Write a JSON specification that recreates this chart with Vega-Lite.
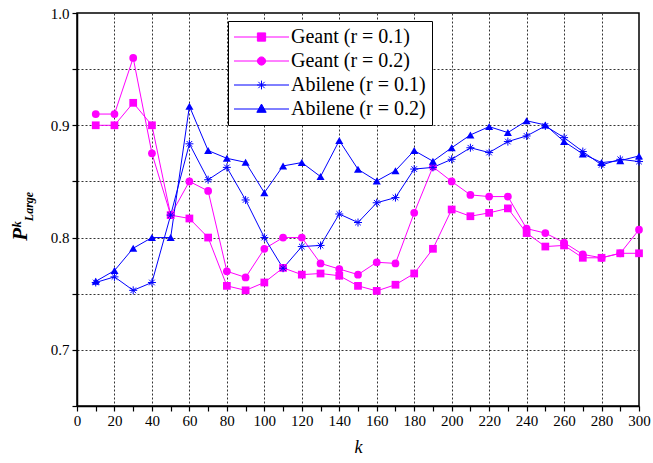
{
  "$schema": "https://vega.github.io/schema/vega-lite/v6.json",
  "autosize": {"type": "none"},
  "padding": {"left": 77, "top": 13, "right": 14, "bottom": 57},
  "width": 562,
  "height": 393,
  "background": "white",
  "config": {
    "font": "Times New Roman, Liberation Serif, serif",
    "view": {"stroke": "black", "strokeWidth": 1.5},
    "axis": {
      "domainColor": "black", "domainWidth": 1.5, "tickColor": "black", "tickWidth": 1.2,
      "labelFont": "Times New Roman, Liberation Serif, serif", "labelFontSize": 15, "labelColor": "black",
      "titleFont": "Times New Roman, Liberation Serif, serif", "titleColor": "black",
      "gridColor": "#333333", "gridDash": [2, 2], "gridWidth": 1
    },
    "legend": {
      "orient": "none", "legendX": 151, "legendY": 8,
      "strokeColor": "black", "fillColor": "white", "padding": 6,
      "labelFont": "Times New Roman, Liberation Serif, serif", "labelFontSize": 20, "labelColor": "black",
      "symbolSize": 100, "rowPadding": 4, "labelOffset": 4, "symbolStrokeWidth": 1,
      "clipHeight": 20
    }
  },
  "data": {"values": [
    {"k":10,"series":"Geant (r = 0.1)","v":0.90},{"k":20,"series":"Geant (r = 0.1)","v":0.90},{"k":30,"series":"Geant (r = 0.1)","v":0.92},{"k":40,"series":"Geant (r = 0.1)","v":0.90},{"k":50,"series":"Geant (r = 0.1)","v":0.82},{"k":60,"series":"Geant (r = 0.1)","v":0.817},{"k":70,"series":"Geant (r = 0.1)","v":0.80},{"k":80,"series":"Geant (r = 0.1)","v":0.757},{"k":90,"series":"Geant (r = 0.1)","v":0.753},{"k":100,"series":"Geant (r = 0.1)","v":0.76},
    {"k":110,"series":"Geant (r = 0.1)","v":0.773},{"k":120,"series":"Geant (r = 0.1)","v":0.767},{"k":130,"series":"Geant (r = 0.1)","v":0.768},{"k":140,"series":"Geant (r = 0.1)","v":0.766},{"k":150,"series":"Geant (r = 0.1)","v":0.757},{"k":160,"series":"Geant (r = 0.1)","v":0.7525},{"k":170,"series":"Geant (r = 0.1)","v":0.758},{"k":180,"series":"Geant (r = 0.1)","v":0.768},{"k":190,"series":"Geant (r = 0.1)","v":0.79},{"k":200,"series":"Geant (r = 0.1)","v":0.825},
    {"k":210,"series":"Geant (r = 0.1)","v":0.819},{"k":220,"series":"Geant (r = 0.1)","v":0.822},{"k":230,"series":"Geant (r = 0.1)","v":0.826},{"k":240,"series":"Geant (r = 0.1)","v":0.804},{"k":250,"series":"Geant (r = 0.1)","v":0.792},{"k":260,"series":"Geant (r = 0.1)","v":0.793},{"k":270,"series":"Geant (r = 0.1)","v":0.782},{"k":280,"series":"Geant (r = 0.1)","v":0.782},{"k":290,"series":"Geant (r = 0.1)","v":0.786},{"k":300,"series":"Geant (r = 0.1)","v":0.786},
    {"k":10,"series":"Geant (r = 0.2)","v":0.91},{"k":20,"series":"Geant (r = 0.2)","v":0.91},{"k":30,"series":"Geant (r = 0.2)","v":0.96},{"k":40,"series":"Geant (r = 0.2)","v":0.875},{"k":50,"series":"Geant (r = 0.2)","v":0.82},{"k":60,"series":"Geant (r = 0.2)","v":0.85},{"k":70,"series":"Geant (r = 0.2)","v":0.8415},{"k":80,"series":"Geant (r = 0.2)","v":0.77},{"k":90,"series":"Geant (r = 0.2)","v":0.7645},{"k":100,"series":"Geant (r = 0.2)","v":0.79},
    {"k":110,"series":"Geant (r = 0.2)","v":0.80},{"k":120,"series":"Geant (r = 0.2)","v":0.80},{"k":130,"series":"Geant (r = 0.2)","v":0.777},{"k":140,"series":"Geant (r = 0.2)","v":0.772},{"k":150,"series":"Geant (r = 0.2)","v":0.767},{"k":160,"series":"Geant (r = 0.2)","v":0.778},{"k":170,"series":"Geant (r = 0.2)","v":0.777},{"k":180,"series":"Geant (r = 0.2)","v":0.822},{"k":190,"series":"Geant (r = 0.2)","v":0.863},{"k":200,"series":"Geant (r = 0.2)","v":0.85},
    {"k":210,"series":"Geant (r = 0.2)","v":0.838},{"k":220,"series":"Geant (r = 0.2)","v":0.8365},{"k":230,"series":"Geant (r = 0.2)","v":0.8365},{"k":240,"series":"Geant (r = 0.2)","v":0.808},{"k":250,"series":"Geant (r = 0.2)","v":0.804},{"k":260,"series":"Geant (r = 0.2)","v":0.7955},{"k":270,"series":"Geant (r = 0.2)","v":0.785},{"k":280,"series":"Geant (r = 0.2)","v":0.782},{"k":290,"series":"Geant (r = 0.2)","v":0.786},{"k":300,"series":"Geant (r = 0.2)","v":0.807},
    {"k":10,"series":"Abilene (r = 0.1)","v":0.76},{"k":20,"series":"Abilene (r = 0.1)","v":0.765},{"k":30,"series":"Abilene (r = 0.1)","v":0.753},{"k":40,"series":"Abilene (r = 0.1)","v":0.76},{"k":50,"series":"Abilene (r = 0.1)","v":0.82},{"k":60,"series":"Abilene (r = 0.1)","v":0.8835},{"k":70,"series":"Abilene (r = 0.1)","v":0.8515},{"k":80,"series":"Abilene (r = 0.1)","v":0.8625},{"k":90,"series":"Abilene (r = 0.1)","v":0.8335},{"k":100,"series":"Abilene (r = 0.1)","v":0.80},
    {"k":110,"series":"Abilene (r = 0.1)","v":0.7727},{"k":120,"series":"Abilene (r = 0.1)","v":0.792},{"k":130,"series":"Abilene (r = 0.1)","v":0.793},{"k":140,"series":"Abilene (r = 0.1)","v":0.821},{"k":150,"series":"Abilene (r = 0.1)","v":0.8134},{"k":160,"series":"Abilene (r = 0.1)","v":0.831},{"k":170,"series":"Abilene (r = 0.1)","v":0.8356},{"k":180,"series":"Abilene (r = 0.1)","v":0.861},{"k":190,"series":"Abilene (r = 0.1)","v":0.8625},{"k":200,"series":"Abilene (r = 0.1)","v":0.8697},
    {"k":210,"series":"Abilene (r = 0.1)","v":0.880},{"k":220,"series":"Abilene (r = 0.1)","v":0.8757},{"k":230,"series":"Abilene (r = 0.1)","v":0.8855},{"k":240,"series":"Abilene (r = 0.1)","v":0.8905},{"k":250,"series":"Abilene (r = 0.1)","v":0.8994},{"k":260,"series":"Abilene (r = 0.1)","v":0.889},{"k":270,"series":"Abilene (r = 0.1)","v":0.8766},{"k":280,"series":"Abilene (r = 0.1)","v":0.8647},{"k":290,"series":"Abilene (r = 0.1)","v":0.8697},{"k":300,"series":"Abilene (r = 0.1)","v":0.8677},
    {"k":10,"series":"Abilene (r = 0.2)","v":0.761},{"k":20,"series":"Abilene (r = 0.2)","v":0.7706},{"k":30,"series":"Abilene (r = 0.2)","v":0.7905},{"k":40,"series":"Abilene (r = 0.2)","v":0.80},{"k":50,"series":"Abilene (r = 0.2)","v":0.80},{"k":60,"series":"Abilene (r = 0.2)","v":0.917},{"k":70,"series":"Abilene (r = 0.2)","v":0.8775},{"k":80,"series":"Abilene (r = 0.2)","v":0.8706},{"k":90,"series":"Abilene (r = 0.2)","v":0.867},{"k":100,"series":"Abilene (r = 0.2)","v":0.840},
    {"k":110,"series":"Abilene (r = 0.2)","v":0.8638},{"k":120,"series":"Abilene (r = 0.2)","v":0.8668},{"k":130,"series":"Abilene (r = 0.2)","v":0.8543},{"k":140,"series":"Abilene (r = 0.2)","v":0.8864},{"k":150,"series":"Abilene (r = 0.2)","v":0.8608},{"k":160,"series":"Abilene (r = 0.2)","v":0.8504},{"k":170,"series":"Abilene (r = 0.2)","v":0.8596},{"k":180,"series":"Abilene (r = 0.2)","v":0.8775},{"k":190,"series":"Abilene (r = 0.2)","v":0.868},{"k":200,"series":"Abilene (r = 0.2)","v":0.880},
    {"k":210,"series":"Abilene (r = 0.2)","v":0.8914},{"k":220,"series":"Abilene (r = 0.2)","v":0.8988},{"k":230,"series":"Abilene (r = 0.2)","v":0.8935},{"k":240,"series":"Abilene (r = 0.2)","v":0.904},{"k":250,"series":"Abilene (r = 0.2)","v":0.9003},{"k":260,"series":"Abilene (r = 0.2)","v":0.8855},{"k":270,"series":"Abilene (r = 0.2)","v":0.8745},{"k":280,"series":"Abilene (r = 0.2)","v":0.8668},{"k":290,"series":"Abilene (r = 0.2)","v":0.8685},{"k":300,"series":"Abilene (r = 0.2)","v":0.8727}
  ]},
  "resolve": {"axis": {"y": "independent"}},
  "encoding": {
    "x": {
      "field": "k", "type": "quantitative",
      "scale": {"domain": [0, 300], "nice": false, "zero": false},
      "axis": {
        "values": [0,10,20,30,40,50,60,70,80,90,100,110,120,130,140,150,160,170,180,190,200,210,220,230,240,250,260,270,280,290,300],
        "grid": true,
        "gridOpacity": {"condition": {"test": "datum.value % 20 === 0 && datum.value > 0 && datum.value < 300", "value": 1}, "value": 0},
        "labelExpr": "datum.value % 20 === 0 ? datum.label : ''",
        "labelOverlap": false,
        "tickSize": 5,
        "labelPadding": 2, "labelFlush": false,
        "title": "k", "titleFontStyle": "italic", "titleFontWeight": "normal", "titleFontSize": 18, "titlePadding": 10
      }
    },
    "color": {
      "field": "series", "type": "nominal",
      "scale": {"domain": ["Geant (r = 0.1)", "Geant (r = 0.2)", "Abilene (r = 0.1)", "Abilene (r = 0.2)"], "range": ["#FF00FF", "#FF00FF", "#0000FF", "#0000FF"]},
      "legend": {
        "title": null,
        "symbolType": "M-1,0H1",
        "clipHeight": 20,
        "encode": {
          "symbols": {"update": {
            "shape": {"signal": "datum.value==='Geant (r = 0.1)' ? 'M-1,0H1M-0.15,-0.15H0.15V0.15H-0.15Z' : datum.value==='Geant (r = 0.2)' ? 'M-1,0H1M0.15,0A0.15,0.15,0,1,1,-0.15,0A0.15,0.15,0,1,1,0.15,0Z' : datum.value==='Abilene (r = 0.1)' ? 'M-1,0H1M-0.16,0H0.16M0,-0.16V0.16M-0.115,-0.115L0.115,0.115M-0.115,0.115L0.115,-0.115' : 'M-1,0H1M0,-0.18L0.17,0.12H-0.17Z'"},
            "fill": {"signal": "indexof(datum.value,'Geant')===0 ? '#FF00FF' : '#2222FF'"},
            "stroke": {"signal": "indexof(datum.value,'Geant')===0 ? '#FF00FF' : '#2222FF'"},
            "strokeWidth": {"value": 1},
            "opacity": {"value": 1},
            "size": {"value": 3025},
            "x": {"value": 27.5}
          }},
          "labels": {"update": {"x": {"value": 57}}}
        }
      }
    }
  },
  "layer": [
    {
      "mark": {"type": "line", "strokeWidth": 1},
      "encoding": {
        "y": {
          "field": "v", "type": "quantitative",
          "scale": {"domain": [0.65, 1.0], "nice": false, "zero": false},
          "axis": {
            "orient": "left",
            "values": [0.65, 0.7, 0.75, 0.8, 0.85, 0.9, 0.95, 1.0],
            "grid": true,
            "gridOpacity": {"condition": {"test": "datum.value > 0.66 && datum.value < 0.99", "value": 1}, "value": 0},
            "labelExpr": "abs(datum.value*10-round(datum.value*10))<0.01 ? format(datum.value,'.1f') : ''",
            "tickSize": 5, "labelPadding": 3, "labelFlush": false,
            "title": "Pᵏ", "titleFontStyle": "italic", "titleFontWeight": "bold", "titleFontSize": 21,
            "titleX": -57, "titleY": 218, "titleAngle": -90, "titleAlign": "center", "titleBaseline": "middle"
          }
        }
      }
    },
    {
      "transform": [{"filter": "datum.series === 'Geant (r = 0.1)'"}],
      "mark": {"type": "point", "filled": true, "opacity": 1, "size": 60, "shape": "square"},
      "encoding": {
        "y": {
          "field": "v", "type": "quantitative",
          "axis": {
            "orient": "left", "labels": false, "ticks": false, "domain": false, "grid": false,
            "title": "Large", "titleFontStyle": "italic", "titleFontWeight": "bold", "titleFontSize": 12,
            "titleX": -49, "titleY": 193, "titleAngle": -90, "titleAlign": "center", "titleBaseline": "middle"
          }
        }
      }
    },
    {
      "transform": [{"filter": "datum.series === 'Geant (r = 0.2)'"}],
      "mark": {"type": "point", "filled": true, "opacity": 1, "size": 60, "shape": "circle"},
      "encoding": {"y": {"field": "v", "type": "quantitative", "axis": null}}
    },
    {
      "transform": [{"filter": "datum.series === 'Abilene (r = 0.2)'"}],
      "mark": {"type": "point", "filled": true, "opacity": 1, "size": 65, "shape": "triangle-up"},
      "encoding": {"y": {"field": "v", "type": "quantitative", "axis": null}}
    },
    {
      "transform": [{"filter": "datum.series === 'Abilene (r = 0.1)'"}],
      "mark": {"type": "point", "filled": false, "opacity": 1, "size": 64, "strokeWidth": 1, "shape": "M-1,0L1,0M0,-1L0,1M-0.7,-0.7L0.7,0.7M-0.7,0.7L0.7,-0.7"},
      "encoding": {"y": {"field": "v", "type": "quantitative", "axis": null}}
    }
  ]
}
